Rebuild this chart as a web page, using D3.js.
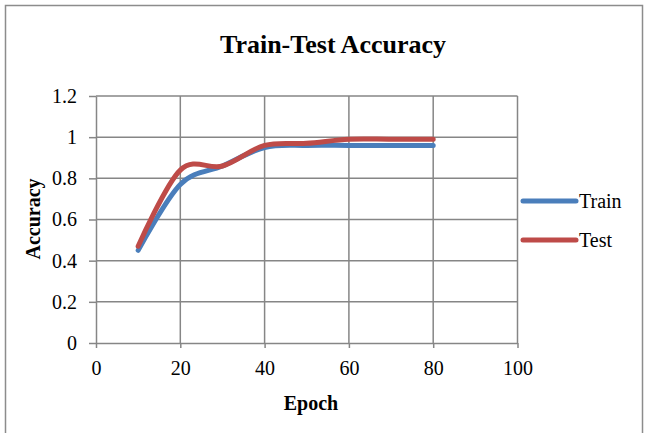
<!DOCTYPE html>
<html>
<head>
<meta charset="utf-8">
<script src="https://cdn.jsdelivr.net/npm/d3@7"></script>
<style>
  body { margin: 0; background: #fff; }
  text { font-family: "Liberation Serif", "Times New Roman", serif; fill: #000; }
</style>
</head>
<body>
<div id="chart"></div>
<script>
// values
var epochs = [10, 20, 30, 40, 50, 60, 70, 80];
var train = [0.45, 0.77, 0.86, 0.95, 0.96, 0.96, 0.96, 0.96];
var test = [0.47, 0.84, 0.86, 0.96, 0.97, 0.99, 0.99, 0.99];
var xTicks = [0, 20, 40, 60, 80, 100];
var yTicks = [0, 0.2, 0.4, 0.6, 0.8, 1, 1.2];
var seriesNames = ["Train", "Test"];
var colors = ["#4a7ebb", "#be4b48"];

var width = 648, height = 433;
var plotLeft = 96, plotRight = 517.5, plotTop = 96, plotBottom = 343;

var svg = d3.select("#chart").append("svg")
  .attr("width", width)
  .attr("height", height);

// outer frame
svg.append("rect")
  .attr("x", 5.5).attr("y", 5.5)
  .attr("width", 637).attr("height", 432)
  .attr("fill", "none")
  .attr("stroke", "#8c8c8c")
  .attr("stroke-width", 1.5);

var x = d3.scaleLinear().domain([0, 100]).range([plotLeft, plotRight]);
var y = d3.scaleLinear().domain([0, 1.2]).range([plotBottom, plotTop]);

// gridlines
svg.append("g")
  .selectAll("line")
  .data(yTicks.slice(1))
  .enter().append("line")
  .attr("x1", plotLeft).attr("x2", plotRight)
  .attr("y1", function(d) { return y(d); })
  .attr("y2", function(d) { return y(d); })
  .attr("stroke", "#868686").attr("stroke-width", 1.5);

svg.append("g")
  .selectAll("line")
  .data(xTicks.slice(1))
  .enter().append("line")
  .attr("y1", plotTop).attr("y2", plotBottom)
  .attr("x1", function(d) { return x(d); })
  .attr("x2", function(d) { return x(d); })
  .attr("stroke", "#868686").attr("stroke-width", 1.5);

// axes
var xAxis = svg.append("g")
  .attr("transform", "translate(0," + plotBottom + ")")
  .call(d3.axisBottom(x).tickValues(xTicks).tickSize(5).tickPadding(13).tickSizeOuter(0));

var yAxis = svg.append("g")
  .attr("transform", "translate(" + plotLeft + ",0)")
  .call(d3.axisLeft(y).tickValues(yTicks).tickSize(7).tickPadding(12).tickSizeOuter(0)
    .tickFormat(function(d) { return String(+d.toFixed(1)); }));

[xAxis, yAxis].forEach(function(a) {
  a.attr("font-family", null).attr("font-size", null);
  a.select(".domain").attr("stroke", "#868686").attr("stroke-width", 1.5);
  a.selectAll(".tick line").attr("stroke", "#868686").attr("stroke-width", 1.5);
  a.selectAll("text").style("font-size", "20px").attr("fill", "#000");
});

// lines
var line = d3.line()
  .x(function(d) { return x(d[0]); })
  .y(function(d) { return y(d[1]); })
  .curve(d3.curveCardinal.tension(0));

[train, test].forEach(function(vals, i) {
  svg.append("path")
    .datum(epochs.map(function(e, j) { return [e, vals[j]]; }))
    .attr("d", line)
    .attr("fill", "none")
    .attr("stroke", colors[i])
    .attr("stroke-width", 5)
    .attr("stroke-linecap", "round")
    .attr("stroke-linejoin", "round");
});

// titles
svg.append("text")
  .text("Train-Test Accuracy")
  .attr("x", 333).attr("y", 53)
  .attr("text-anchor", "middle")
  .style("font-size", "26px").style("font-weight", "bold");

svg.append("text")
  .text("Epoch")
  .attr("x", 311).attr("y", 410)
  .attr("text-anchor", "middle")
  .style("font-size", "20px").style("font-weight", "bold");

svg.append("text")
  .text("Accuracy")
  .attr("transform", "translate(40,219) rotate(-90)")
  .attr("text-anchor", "middle")
  .style("font-size", "20px").style("font-weight", "bold");

// legend
var legend = svg.append("g");
seriesNames.forEach(function(name, i) {
  var ly = 201 + i * 39;
  legend.append("line")
    .attr("x1", 523).attr("x2", 576)
    .attr("y1", ly).attr("y2", ly)
    .attr("stroke", colors[i]).attr("stroke-width", 5)
    .attr("stroke-linecap", "round");
  legend.append("text")
    .text(name)
    .attr("x", 579).attr("y", ly + 7)
    .style("font-size", "20px");
});
</script>
</body>
</html>
